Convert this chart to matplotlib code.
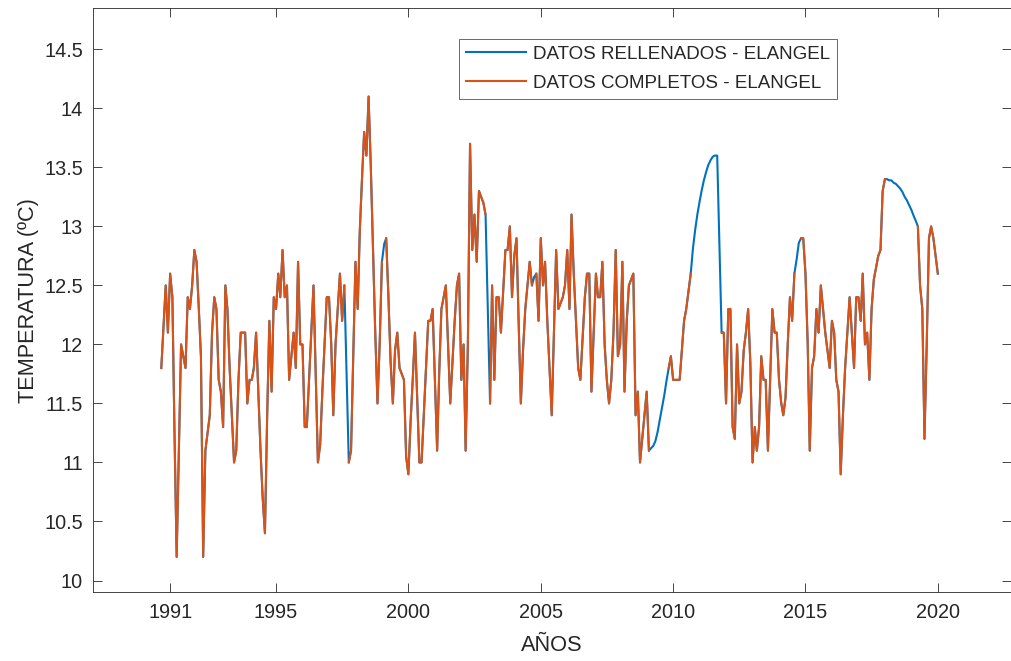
import matplotlib.pyplot as plt
import numpy as np
import pandas as pd

plt.rcParams['font.family'] = ['Liberation Sans', 'DejaVu Sans']

# Temperatura media mensual (ºC), estación El Ángel, desde sep-1990 hasta ene-2020
temp_1990 = [11.8, 12.15, 12.5, 12.1]  # sep-dic
temp_1991 = [12.6, 12.4, 11.3, 10.2, 11.1, 12.0, 11.9, 11.8, 12.4, 12.3, 12.5, 12.8]
temp_1992 = [12.7, 12.3, 11.9, 10.2, 11.1, 11.25, 11.4, 12.1, 12.4, 12.3, 11.7, 11.6]
temp_1993 = [11.3, 12.5, 12.3, 11.8, 11.4, 11.0, 11.1, 11.7, 12.1, 12.1, 12.1, 11.5]
temp_1994 = [11.7, 11.7, 11.8, 12.1, 11.6, 11.1, 10.7, 10.4, 11.4, 12.2, 11.6, 12.4]
temp_1995 = [12.3, 12.6, 12.4, 12.8, 12.4, 12.5, 11.7, 11.9, 12.1, 11.8, 12.7, 12.0]
temp_1996 = [12.0, 11.3, 11.3, 11.7, 12.1, 12.5, 11.75, 11.0, 11.15, 11.6, 12.0, 12.4]
temp_1997 = [12.4, 12.0, 11.4, 12.0, 12.3, 12.6, 12.2, 12.5, 11.75, 11.0, 11.1, 11.9]
temp_1998 = [12.7, 12.3, 12.95, 13.4, 13.8, 13.6, 14.1, 13.5, 12.8, 12.1, 11.5, 12.0]
temp_1999 = [12.7, 12.85, 12.9, 12.4, 11.85, 11.5, 11.95, 12.1, 11.8, 11.75, 11.7, 11.05]
temp_2000 = [10.9, 11.35, 11.7, 12.1, 11.55, 11.0, 11.0, 11.4, 11.8, 12.2, 12.2, 12.3]
temp_2001 = [11.7, 11.1, 11.75, 12.3, 12.4, 12.5, 12.0, 11.5, 11.85, 12.2, 12.5, 12.6]
temp_2002 = [11.7, 12.0, 11.1, 12.0, 13.7, 12.8, 13.1, 12.7, 13.3, 13.25, 13.2, 13.1]
temp_2003 = [12.3, 11.5, 12.5, 11.7, 12.4, 12.4, 12.1, 12.45, 12.8, 12.8, 13.0, 12.4]
temp_2004 = [12.75, 12.9, 12.2, 11.5, 11.95, 12.3, 12.5, 12.7, 12.5, 12.57, 12.6, 12.2]
temp_2005 = [12.9, 12.5, 12.7, 12.2, 11.8, 11.4, 12.1, 12.8, 12.3, 12.35, 12.4, 12.5]
temp_2006 = [12.8, 12.3, 13.1, 12.6, 12.2, 11.8, 11.7, 12.05, 12.4, 12.6, 12.6, 11.6]
temp_2007 = [12.1, 12.6, 12.4, 12.4, 12.7, 12.0, 11.7, 11.5, 11.7, 12.1, 12.8, 11.9]
temp_2008 = [12.0, 12.7, 11.6, 12.2, 12.5, 12.55, 12.6, 11.4, 11.6, 11.0, 11.2, 11.4]
temp_2009 = [11.6, 11.1, 11.12, 11.14, 11.18, 11.26, 11.36, 11.46, 11.57, 11.69, 11.8, 11.9]
temp_2010 = [11.7, 11.7, 11.7, 11.7, 11.95, 12.2, 12.3, 12.45, 12.6, 12.81, 12.97, 13.1]
temp_2011 = [13.21, 13.31, 13.39, 13.46, 13.52, 13.56, 13.59, 13.6, 13.6, 12.85, 12.1, 12.1]
temp_2012 = [11.5, 12.3, 12.3, 11.3, 11.2, 12.0, 11.5, 11.6, 11.95, 12.1, 12.3, 11.85]
temp_2013 = [11.0, 11.3, 11.1, 11.3, 11.9, 11.7, 11.7, 11.1, 11.7, 12.3, 12.1, 12.1]
temp_2014 = [11.7, 11.5, 11.4, 11.55, 12.0, 12.4, 12.2, 12.6, 12.72, 12.86, 12.9, 12.9]
temp_2015 = [12.6, 12.0, 11.1, 11.8, 11.9, 12.3, 12.1, 12.5, 12.3, 12.1, 11.95, 11.8]
temp_2016 = [12.2, 12.1, 11.7, 11.6, 10.9, 11.4, 11.8, 12.1, 12.4, 12.1, 11.8, 12.4]
temp_2017 = [12.4, 12.2, 12.6, 12.0, 12.1, 11.7, 12.3, 12.55, 12.65, 12.75, 12.8, 13.3]
temp_2018 = [13.4, 13.4, 13.39, 13.39, 13.37, 13.36, 13.34, 13.32, 13.29, 13.25, 13.22, 13.18]
temp_2019 = [13.14, 13.09, 13.05, 13.0, 12.5, 12.3, 11.2, 12.0, 12.9, 13.0, 12.9, 12.75]
temp_2020 = [12.6]  # ene

temperatura = (temp_1990 + temp_1991 + temp_1992 + temp_1993 + temp_1994 + temp_1995
               + temp_1996 + temp_1997 + temp_1998 + temp_1999 + temp_2000 + temp_2001
               + temp_2002 + temp_2003 + temp_2004 + temp_2005 + temp_2006 + temp_2007
               + temp_2008 + temp_2009 + temp_2010 + temp_2011 + temp_2012 + temp_2013
               + temp_2014 + temp_2015 + temp_2016 + temp_2017 + temp_2018 + temp_2019
               + temp_2020)

# meses sin registro que se rellenaron (inicio, fin)
meses_rellenados = [
    ("1997-09", "1997-09"),
    ("1999-02", "1999-02"),
    ("2003-01", "2003-01"),
    ("2004-10", "2004-10"),
    ("2009-03", "2009-10"),
    ("2010-10", "2011-10"),
    ("2014-09", "2014-10"),
    ("2018-02", "2019-03"),
]

anios_ticks = [1991, 1995, 2000, 2005, 2010, 2015, 2020]
y_ticks = np.arange(10, 14.51, 0.5)

fechas = pd.date_range("1990-09-01", periods=len(temperatura), freq="MS")
rellenados = pd.Series(temperatura, index=fechas)
completos = rellenados.copy()
for ini, fin in meses_rellenados:
    completos.loc[ini:fin] = np.nan

gris = "#262626"
fig = plt.figure(figsize=(10.12, 6.61), dpi=100)
ax = fig.add_axes([0.0922, 0.1039, 0.9069, 0.884])

x = fechas.to_pydatetime()
ax.plot(x, rellenados.values, color="#0072BD", lw=1.5, label="DATOS RELLENADOS - ELANGEL")
ax.plot(x, completos.values, color="#D95319", lw=1.5, label="DATOS COMPLETOS - ELANGEL")

ax.set_xlim(pd.Timestamp("1988-02-06").to_pydatetime(), pd.Timestamp("2022-10-08").to_pydatetime())
ax.set_ylim(9.9, 14.85)
ax.set_xticks([pd.Timestamp(f"{a}-01-01").to_pydatetime() for a in anios_ticks])
ax.set_xticklabels([str(a) for a in anios_ticks])
ax.set_yticks(y_ticks)
ax.set_yticklabels([f"{v:g}" for v in y_ticks])

ax.tick_params(direction="in", length=6.5, width=0.6, top=True, right=True,
               labelsize=14.3, colors=gris)
ax.tick_params(axis="x", pad=8)
ax.tick_params(axis="y", pad=7.5)
for s in ax.spines.values():
    s.set_color(gris)
    s.set_linewidth(0.6)

ax.set_xlabel("AÑOS", fontsize=15.7, color=gris, labelpad=9)
ax.set_ylabel("TEMPERATURA (ºC)", fontsize=15.7, color=gris, labelpad=4)

leg = ax.legend(loc="upper left", bbox_to_anchor=(0.3985, 0.947), fontsize=13.5,
                frameon=True, fancybox=False, handlelength=3.2, borderpad=0.35,
                labelspacing=0.65, handletextpad=0.4, borderaxespad=0)
leg.get_frame().set_edgecolor(gris)
leg.get_frame().set_linewidth(0.6)
for t in leg.get_texts():
    t.set_color(gris)

fig.savefig("out.png", dpi=100)
